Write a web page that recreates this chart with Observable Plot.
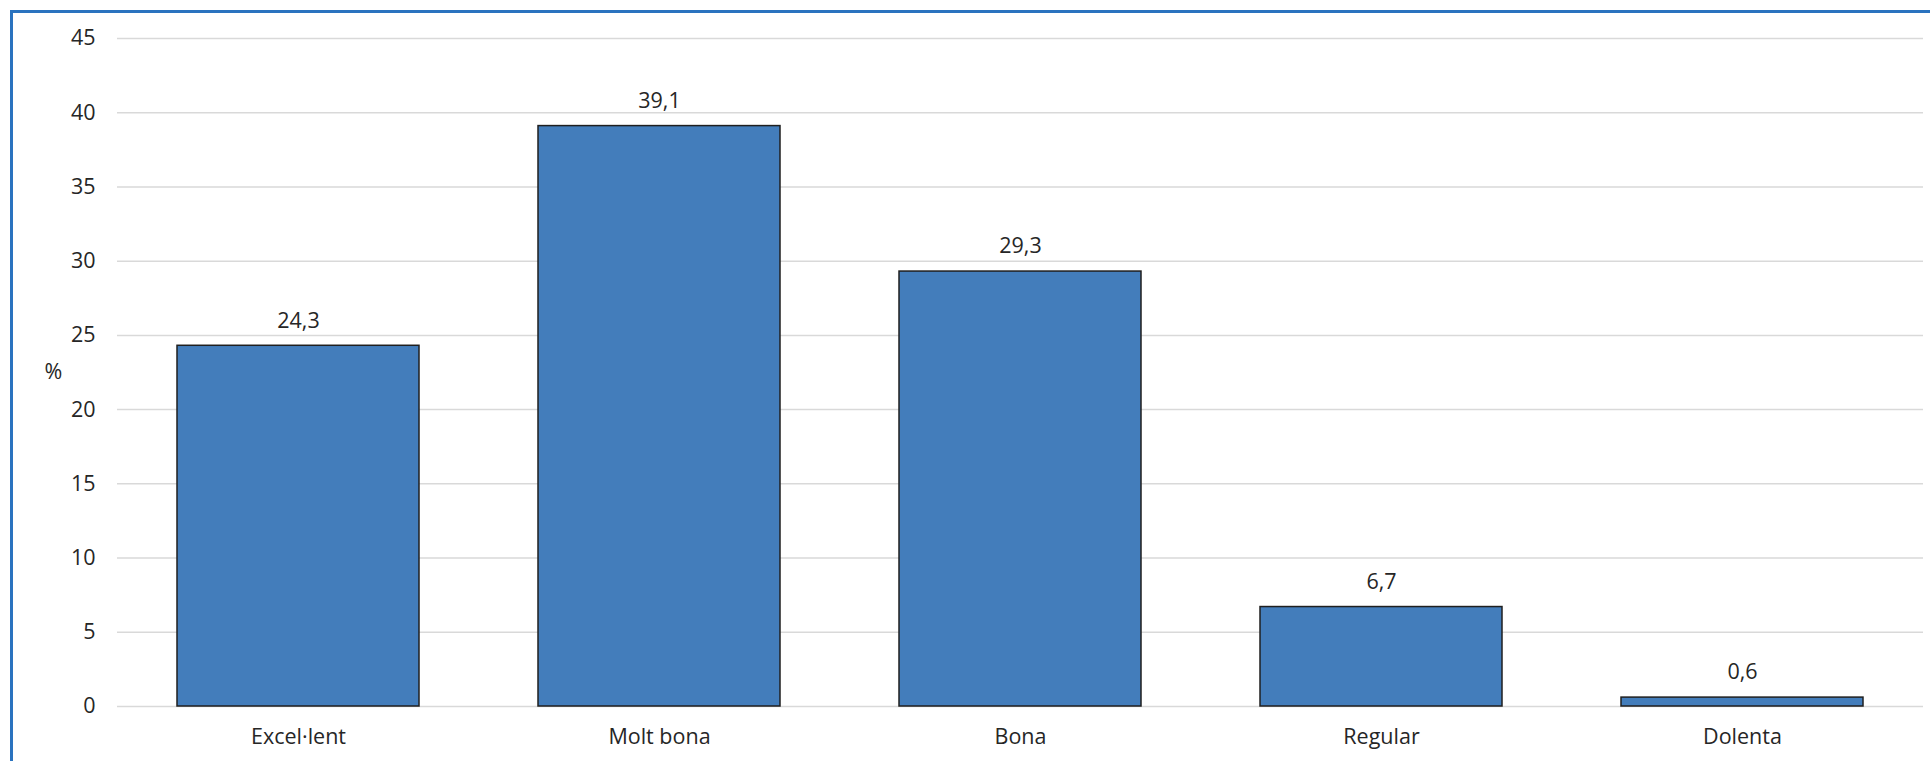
<!DOCTYPE html>
<html>
<head>
<meta charset="utf-8">
<script src="https://cdn.jsdelivr.net/npm/d3@7"></script>
<script src="https://cdn.jsdelivr.net/npm/@observablehq/plot@0.6"></script>
<style>
  html, body { margin: 0; padding: 0; background: #fff; overflow: hidden; }
  #wrap { position: relative; width: 1930px; height: 761px; }
  #border { position: absolute; left: 10px; top: 10px; width: 1930px; height: 800px;
            border-top: 3px solid #2a73bf; border-left: 3px solid #2a73bf; pointer-events: none; }
  #chart { position: absolute; left: 0; top: 0; }
</style>
</head>
<body>
<div id="wrap"><div id="chart"></div><div id="border"></div></div>
<script>
const categories = ["Excel·lent", "Molt bona", "Bona", "Regular", "Dolenta"];
const values = [24.3, 39.1, 29.3, 6.7, 0.6];
const yTicks = [0, 5, 10, 15, 20, 25, 30, 35, 40, 45];
const yLabel = "%";

const data = categories.map((c, i) => ({cat: c, val: values[i]}));
const fmt = v => d3.format(".1f")(v).replace(".", ",");
const font = "'Open Sans', 'Noto Sans', sans-serif";

const chart = Plot.plot({
  width: 1930,
  height: 761,
  marginLeft: 117,
  marginRight: 7,
  marginTop: 38,
  marginBottom: 55,
  style: {fontFamily: font, fontSize: "21.5px", color: "#262626", background: "transparent"},
  x: {domain: categories, paddingInner: 0.33, paddingOuter: 0.165, label: null, tickSize: 0, tickPadding: 22},
  y: {domain: [0, 45], ticks: yTicks, label: null, tickSize: 0, tickPadding: 22},
  marks: [
    Plot.gridY(yTicks, {stroke: "#d9d9d9", strokeOpacity: 1, strokeWidth: 1.5}),
    Plot.barY(data, {x: "cat", y: "val", fill: "#437dbb", stroke: "#1f1f1f", strokeWidth: 1.5}),
    Plot.text(data, {x: "cat", y: "val", text: d => fmt(d.val), dy: -25, fontSize: 21.5, fill: "#262626"}),
    Plot.text([yLabel], {frameAnchor: "left", dx: -73, text: d => d, fontSize: 21.5, fill: "#262626", y: 22.5})
  ]
});
document.getElementById("chart").appendChild(chart);
</script>
</body>
</html>
